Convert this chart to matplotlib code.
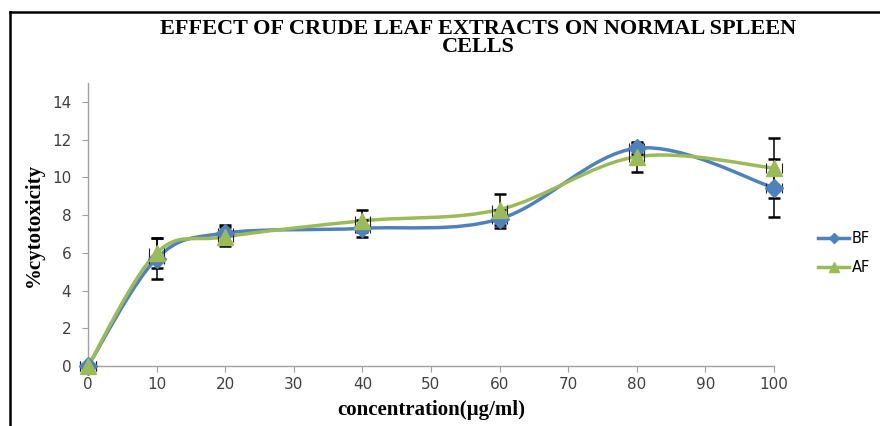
import matplotlib
matplotlib.use("Agg")
import matplotlib.pyplot as plt
import numpy as np
from matplotlib.path import Path
from matplotlib.patches import PathPatch
from matplotlib.lines import Line2D

# ── Data
conc   = [0, 10, 20, 40, 60, 80, 100]
bf     = [0.0, 5.7, 7.05, 7.3, 7.8, 11.55, 9.45]
af     = [0.0, 6.0, 6.85, 7.7, 8.3, 11.1, 10.5]
bf_err = [0.1, 1.1, 0.45, 0.45, 0.5, 0.3, 1.55]
af_err = [0.1, 0.8, 0.5, 0.6, 0.8, 0.8, 1.6]

BLUE  = "#4F81BD"
GREEN = "#9BBB59"
TICK_C = "#404040"
AX_C = "#A0A0A0"


def smooth_path(xs, ys):
    # Excel-style smoothed line: Catmull-Rom segments as cubic Beziers
    pts = np.column_stack([xs, ys]).astype(float)
    n = len(pts)
    verts = [pts[0]]
    codes = [Path.MOVETO]
    for i in range(n - 1):
        p0 = pts[i - 1] if i > 0 else pts[i]
        p1 = pts[i]
        p2 = pts[i + 1]
        p3 = pts[i + 2] if i + 2 < n else pts[i + 1]
        c1 = p1 + (p2 - p0) / 6.0
        c2 = p2 - (p3 - p1) / 6.0
        verts += [c1, c2, p2]
        codes += [Path.CURVE4] * 3
    return Path(verts, codes)


fig = plt.figure(figsize=(8.8, 4.26), dpi=100)
ax = fig.add_axes([0.1, 0.1408, 0.7795, 0.664])

for vals, err, color, marker, ms in [
    (bf, bf_err, BLUE, "D", 9),
    (af, af_err, GREEN, "^", 11),
]:
    ax.add_patch(PathPatch(smooth_path(conc, vals), facecolor="none",
                           edgecolor=color, linewidth=2.5, zorder=3,
                           capstyle="round"))
    ax.errorbar(conc, vals, yerr=err, fmt="none", ecolor="black",
                elinewidth=1.1, capsize=4, capthick=1.8, zorder=5,
                clip_on=False)
    ax.errorbar(conc, vals, xerr=1.1, fmt="none", ecolor="#202020",
                elinewidth=0, capsize=3.5, capthick=0.8, zorder=4,
                clip_on=False)
    ax.plot(conc, vals, linestyle="none", marker=marker, markersize=ms,
            color=color, zorder=6, clip_on=False)

ax.set_xlim(0, 100)
ax.set_ylim(0, 15)
ax.set_xticks(np.arange(0, 101, 10))
ax.set_yticks(np.arange(0, 15, 2))

for side in ["top", "right"]:
    ax.spines[side].set_visible(False)
for side in ["left", "bottom"]:
    ax.spines[side].set_color(AX_C)
    ax.spines[side].set_linewidth(1.0)
ax.tick_params(axis="both", colors=AX_C, labelcolor=TICK_C,
               labelsize=11, length=4, direction="out")
ax.tick_params(axis="x", pad=4)
ax.tick_params(axis="y", pad=8)

ax.set_xlabel("concentration(µg/ml)", family="Liberation Serif",
              fontweight="bold", fontsize=15, labelpad=6)
ax.set_ylabel("%cytotoxicity", family="Liberation Serif",
              fontweight="bold", fontsize=15, labelpad=6)

fig.text(0.543, 0.911, "EFFECT OF CRUDE LEAF EXTRACTS ON NORMAL SPLEEN\nCELLS",
         ha="center", va="center", family="Liberation Serif",
         fontweight="bold", fontsize=16, linespacing=0.9)

handles = [
    Line2D([], [], color=BLUE, linewidth=2.5, marker="D", markersize=5),
    Line2D([], [], color=GREEN, linewidth=2.5, marker="^", markersize=7),
]
fig.legend(handles, ["BF", "AF"], loc="center left",
           bbox_to_anchor=(0.93, 0.406), frameon=False, fontsize=10.5,
           handlelength=2.1, handletextpad=0.2, labelspacing=1.0,
           borderpad=0, borderaxespad=0)

# outer frame (top and left edges only)
fig.add_artist(Line2D([10 / 880, 10 / 880], [0, 1 - 12 / 426],
                      transform=fig.transFigure, color="black", linewidth=1.8))
fig.add_artist(Line2D([10 / 880, 1], [1 - 12 / 426, 1 - 12 / 426],
                      transform=fig.transFigure, color="black", linewidth=1.8))

fig.savefig("out.png", dpi=100)
